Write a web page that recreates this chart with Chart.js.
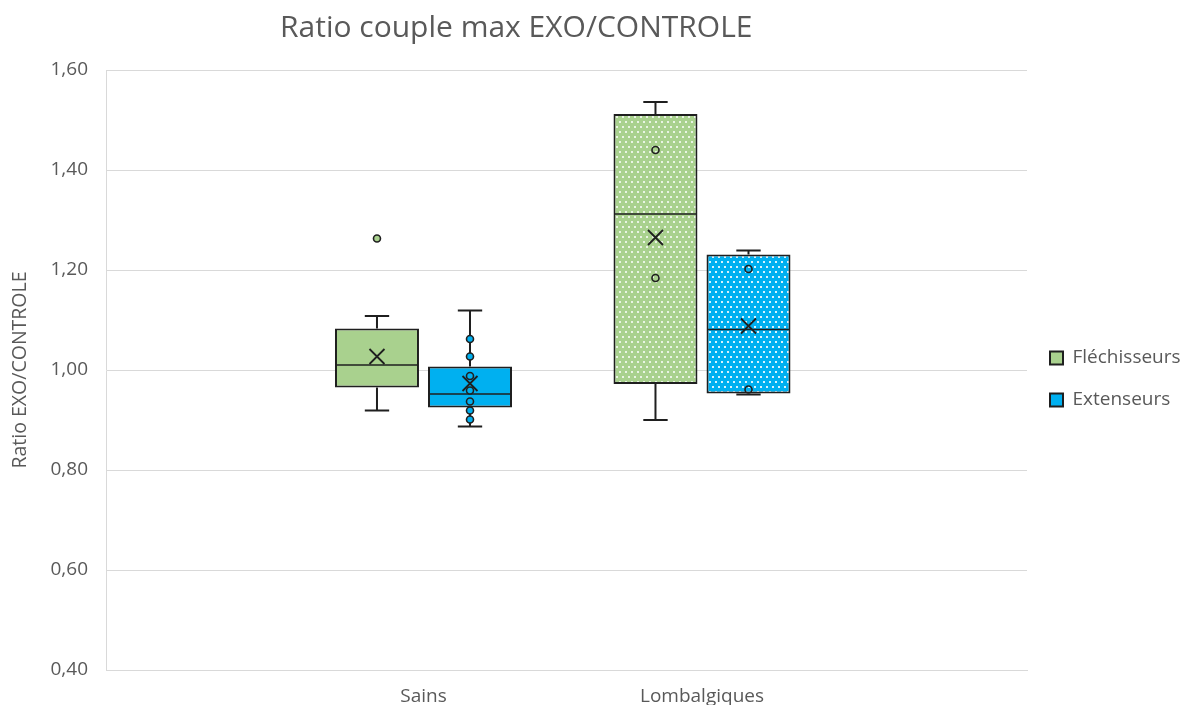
<!DOCTYPE html>
<html>
<head>
<meta charset="utf-8">
<script src="https://cdn.jsdelivr.net/npm/chart.js@4.4.1/dist/chart.umd.min.js"></script>
<style>
html,body{margin:0;padding:0;background:#ffffff;}
#wrap{position:relative;width:1192px;height:705px;}
#title{position:absolute;left:280px;top:6px;font-family:'Open Sans',sans-serif;font-size:30px;line-height:40px;color:#595959;white-space:nowrap;}
canvas{display:block;}
</style>
</head>
<body>
<div id="wrap">
  <div id="title">Ratio couple max EXO/CONTROLE</div>
  <canvas id="c" width="1192" height="705"></canvas>
</div>
<script>
// ---- data ----
const categories = ['Sains', 'Lombalgiques'];
const seriesNames = ['Fléchisseurs', 'Extenseurs'];
const groupPositions = [1, 2];

const flechMin    = [0.919, 0.900];
const flechQ1     = [0.965, 0.972];
const flechMedian = [1.010, 1.312];
const flechQ3     = [1.083, 1.512];
const flechMax    = [1.108, 1.536];
const flechMean   = [1.027, 1.265];
const flechPoints = [[1.263], [1.440, 1.184]];

const extMin    = [0.887, 0.951];
const extQ1     = [0.925, 0.953];
const extMedian = [0.952, 1.081];
const extQ3     = [1.007, 1.231];
const extMax    = [1.119, 1.239];
const extMean   = [0.973, 1.088];
const extPoints = [[1.062, 1.027, 0.988, 0.959, 0.937, 0.919, 0.901], [1.202, 0.961]];

const yTickValues = [0.4, 0.6, 0.8, 1.0, 1.2, 1.4, 1.6];

// ---- styling ----
const GREEN = '#a9d18e';
const BLUE = '#00b0f0';
const EDGE = '#1f1f1f';
const TEXT = '#595959';
const GRID = '#d9d9d9';

const canvas = document.getElementById('c');
const mainCtx = canvas.getContext('2d');

function dotPattern(color, alpha) {
  const t = document.createElement('canvas');
  t.width = 6; t.height = 10;
  const g = t.getContext('2d');
  g.fillStyle = color; g.fillRect(0, 0, 6, 10);
  g.fillStyle = 'rgba(255,255,255,' + alpha + ')';
  g.fillRect(1, 1, 2, 2);
  g.fillRect(4, 6, 2, 2);
  return mainCtx.createPattern(t, 'repeat');
}

const stats = [
  { min: flechMin, q1: flechQ1, median: flechMedian, q3: flechQ3, max: flechMax, mean: flechMean, points: flechPoints, color: GREEN },
  { min: extMin, q1: extQ1, median: extMedian, q3: extQ3, max: extMax, mean: extMean, points: extPoints, color: BLUE }
];
const filledPoints = [true, false]; // per category

const boxDetails = {
  id: 'boxDetails',
  afterDatasetsDraw(chart) {
    const ctx = chart.ctx;
    const ys = chart.scales.y;
    stats.forEach((s, d) => {
      const meta = chart.getDatasetMeta(d);
      meta.data.forEach((bar, i) => {
        const cx = bar.x;
        const w = bar.width;
        const cap = w * 0.29;
        const py = v => ys.getPixelForValue(v);
        ctx.save();
        ctx.strokeStyle = EDGE;
        ctx.lineWidth = 2;
        ctx.beginPath();
        ctx.moveTo(cx, py(s.q3[i])); ctx.lineTo(cx, py(s.max[i]));
        ctx.moveTo(cx - cap / 2, py(s.max[i])); ctx.lineTo(cx + cap / 2, py(s.max[i]));
        ctx.moveTo(cx, py(s.q1[i])); ctx.lineTo(cx, py(s.min[i]));
        ctx.moveTo(cx - cap / 2, py(s.min[i])); ctx.lineTo(cx + cap / 2, py(s.min[i]));
        ctx.stroke();
        ctx.lineWidth = 1.7;
        ctx.beginPath();
        ctx.moveTo(cx - w / 2 + 1, py(s.median[i])); ctx.lineTo(cx + w / 2 - 1, py(s.median[i]));
        ctx.stroke();
        ctx.lineWidth = 1.6;
        s.points[i].forEach(v => {
          ctx.beginPath();
          ctx.arc(cx, py(v), 3.5, 0, Math.PI * 2);
          if (filledPoints[i]) { ctx.fillStyle = s.color; ctx.fill(); }
          ctx.stroke();
        });
        const my = py(s.mean[i]);
        const h = 7.5;
        ctx.lineWidth = 1.8;
        ctx.beginPath();
        ctx.moveTo(cx - h, my - h); ctx.lineTo(cx + h, my + h);
        ctx.moveTo(cx + h, my - h); ctx.lineTo(cx - h, my + h);
        ctx.stroke();
        ctx.restore();
      });
    });
  }
};

const font = (size) => ({ family: "'Open Sans', sans-serif", size: size });

new Chart(canvas, {
  type: 'bar',
  data: {
    datasets: [
      {
        label: seriesNames[0],
        data: groupPositions.map((p, i) => ({ x: p, y: [flechQ1[i], flechQ3[i]] })),
        backgroundColor: [GREEN, dotPattern(GREEN, 0.75)],
        borderColor: EDGE, borderWidth: 2, borderSkipped: false,
        categoryPercentage: 0.668, barPercentage: 0.903
      },
      {
        label: seriesNames[1],
        data: groupPositions.map((p, i) => ({ x: p, y: [extQ1[i], extQ3[i]] })),
        backgroundColor: [BLUE, dotPattern(BLUE, 0.85)],
        borderColor: EDGE, borderWidth: 2, borderSkipped: false,
        categoryPercentage: 0.668, barPercentage: 0.903
      }
    ]
  },
  options: {
    responsive: false,
    animation: false,
    layout: { padding: { top: 70, right: 5, bottom: 0, left: 0 } },
    plugins: {
      tooltip: { enabled: false },
      title: { display: false },
      legend: {
        position: 'right', align: 'center', fullSize: false, maxWidth: 160,
        title: { display: true, text: '', font: { size: 10 }, padding: { top: 3, bottom: 3 } },
        labels: { font: font(19), color: TEXT, boxWidth: 13, boxHeight: 13, padding: 23 }
      }
    },
    scales: {
      x: {
        type: 'linear', offset: false,
        min: -0.140, max: 3.167,
        grid: { display: false, drawTicks: false, offset: false },
        border: { display: true, color: GRID, width: 1 },
        ticks: {
          font: font(19), color: TEXT, padding: 15, autoSkip: false, maxRotation: 0,
          callback: (v) => categories[groupPositions.indexOf(v)] ?? ''
        },
        afterBuildTicks: (s) => { s.ticks = groupPositions.map(v => ({ value: v })); },
        afterFit: (s) => { s.height = 35; }
      },
      y: {
        min: 0.4, max: 1.6,
        grid: { color: GRID, drawTicks: false, lineWidth: 1 },
        border: { display: true, color: GRID, width: 1 },
        ticks: {
          font: font(19), color: TEXT, padding: 18,
          callback: (v) => Number(v).toFixed(2).replace('.', ',')
        },
        afterBuildTicks: (s) => { s.ticks = yTickValues.map(v => ({ value: v })); },
        title: { display: true, text: 'Ratio EXO/CONTROLE', font: font(19.5), color: TEXT, padding: { top: 9, bottom: 0 } },
        afterFit: (s) => { s.width = 106; }
      }
    }
  },
  plugins: [boxDetails]
});
</script>
</body>
</html>
